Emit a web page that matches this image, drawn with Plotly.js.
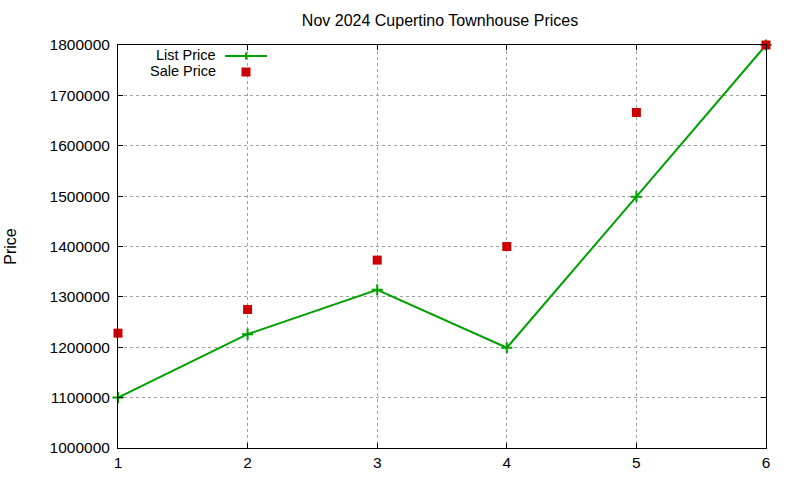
<!DOCTYPE html>
<html>
<head>
<meta charset="utf-8">
<script src="https://cdn.plot.ly/plotly-3.0.1.min.js"></script>
<style>
  html, body { margin: 0; padding: 0; background: #fff; }
  #chart { width: 800px; height: 480px; }
</style>
</head>
<body>
<div id="chart"></div>
<script>
// values
const months = [1, 2, 3, 4, 5, 6];
const listPrice = [1100000, 1226000, 1314000, 1199000, 1499000, 1800000];
const salePrice = [1228000, 1275000, 1373000, 1400000, 1666000, 1800000];
const yTicks = [1000000, 1100000, 1200000, 1300000, 1400000, 1500000, 1600000, 1700000, 1800000];

const green = "#00a000";
const red = "#cc0000";
const font = "Liberation Sans, Arial, sans-serif";

const traces = [
  {
    x: months, y: listPrice, name: "List Price", type: "scatter", mode: "lines+markers",
    line: { color: green, width: 2 },
    marker: { symbol: "cross-thin", size: 8, line: { color: green, width: 2 } },
    cliponaxis: false,
  },
  {
    x: months, y: salePrice, name: "Sale Price", type: "scatter", mode: "markers",
    marker: { symbol: "square", size: 9, color: red },
    cliponaxis: false,
  },
];

// gnuplot-style key: text first, sample after it
const keyText = (txt, y) => ({
  text: txt, xref: "paper", yref: "paper", x: (217 - 118) / 648, y: y,
  xanchor: "right", yanchor: "middle", showarrow: false, borderpad: 0,
  font: { family: font, size: 14.5, color: "#000" },
});

const axisBase = {
  showline: true, linecolor: "#000", linewidth: 1, mirror: "ticks",
  ticks: "inside", ticklen: 5, tickcolor: "#000",
  showgrid: true, gridcolor: "#a0a0a0", griddash: "dot", gridwidth: 1,
  zeroline: false, tickfont: { family: font, size: 15.5, color: "#000" },
};

const layout = {
  width: 800, height: 480,
  margin: { l: 118, r: 34, t: 45, b: 32 },
  paper_bgcolor: "#fff", plot_bgcolor: "#fff",
  showlegend: false,
  title: {
    text: "Nov 2024 Cupertino Townhouse Prices",
    font: { family: font, size: 16, color: "#000" },
    x: 440 / 800, xanchor: "center", y: 1 - 20 / 480, yanchor: "middle",
  },
  xaxis: Object.assign({}, axisBase, {
    range: [1, 6], tickvals: months, ticktext: months.map(String),
  }),
  yaxis: Object.assign({}, axisBase, {
    range: [1000000, 1800000], tickvals: yTicks, ticktext: yTicks.map(String),
    ticklabelstandoff: 4,
    title: { text: "Price", font: { family: font, size: 16, color: "#000" }, standoff: 28 },
  }),
  annotations: [keyText("List Price", 1 - (55.5 - 45) / 403), keyText("Sale Price", 1 - (71 - 45) / 403)],
  shapes: [
    {
      type: "line", xref: "paper", yref: "paper",
      x0: (225 - 118) / 648, x1: (267 - 118) / 648,
      y0: 1 - (56 - 45) / 403, y1: 1 - (56 - 45) / 403,
      line: { color: green, width: 2 },
    },
    {
      type: "line", xref: "paper", yref: "paper",
      x0: (246 - 118) / 648, x1: (246 - 118) / 648,
      y0: 1 - (52.5 - 45) / 403, y1: 1 - (59.5 - 45) / 403,
      line: { color: green, width: 2 },
    },
    {
      type: "rect", xref: "paper", yref: "paper",
      x0: (241.5 - 118) / 648, x1: (250.5 - 118) / 648,
      y0: 1 - (67.5 - 45) / 403, y1: 1 - (76.5 - 45) / 403,
      fillcolor: red, line: { width: 0 },
    },
  ],
};

Plotly.newPlot("chart", traces, layout, { staticPlot: true });
</script>
</body>
</html>
